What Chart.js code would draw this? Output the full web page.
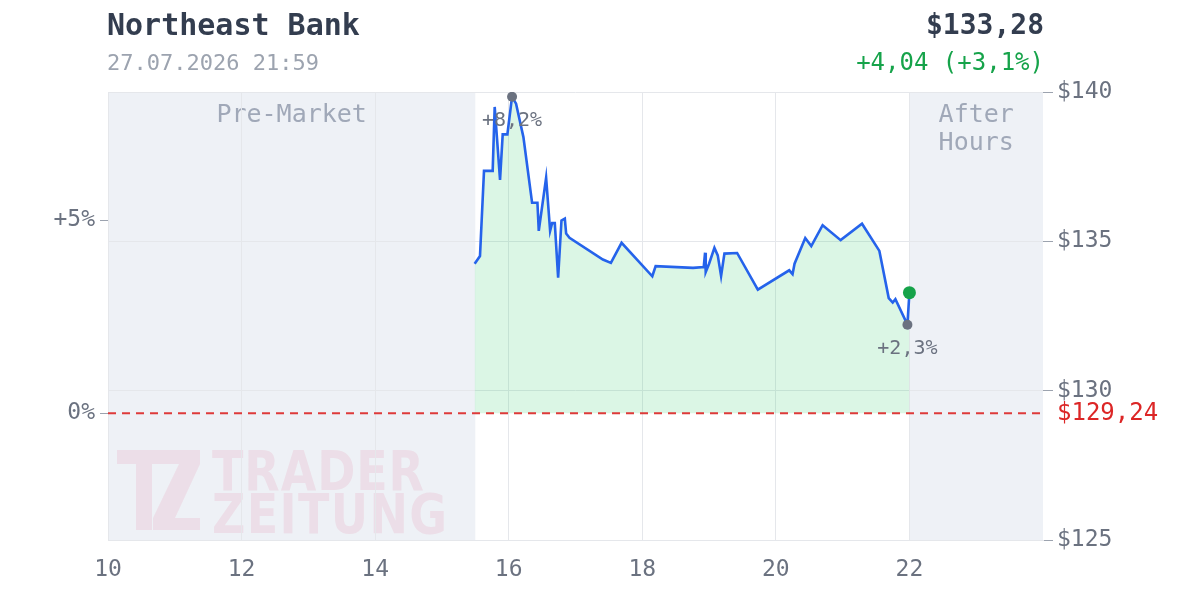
<!DOCTYPE html>
<html>
<head>
<meta charset="utf-8">
<script src="https://cdn.jsdelivr.net/npm/chart.js@4.4.1/dist/chart.umd.min.js"></script>
<style>
  body { margin: 0; background: #fff; }
  canvas { display: block; }
</style>
</head>
<body>
<canvas id="chart" width="1200" height="600"></canvas>
<script>
// Kursdaten (Stunde des Tages, Preis in $)
const zeiten = [15.49, 15.57, 15.63, 15.76, 15.79, 15.87, 15.91, 15.98, 16.05, 16.11,
  16.22, 16.35, 16.43, 16.45, 16.56, 16.62, 16.65, 16.69, 16.74, 16.79,
  16.84, 16.86, 16.91, 17.41, 17.53, 17.69, 18.15, 18.20, 18.76, 18.92,
  18.94, 18.95, 19.00, 19.08, 19.13, 19.18, 19.23, 19.42, 19.73, 20.20,
  20.25, 20.28, 20.44, 20.53, 20.70, 20.97, 21.29, 21.55, 21.69, 21.75,
  21.79, 21.97, 22.00];
const preise = [134.25, 134.51, 137.36, 137.36, 139.50, 137.06, 138.58, 138.58, 139.84, 139.61,
  138.49, 136.29, 136.29, 135.35, 137.13, 135.35, 135.61, 135.61, 133.78, 135.70,
  135.76, 135.26, 135.12, 134.39, 134.28, 134.95, 133.83, 134.17, 134.11, 134.14,
  134.62, 133.97, 134.25, 134.78, 134.53, 133.84, 134.59, 134.61, 133.38, 134.03,
  133.90, 134.25, 135.11, 134.84, 135.54, 135.04, 135.59, 134.68, 133.10, 132.95,
  133.06, 132.21, 133.28];

const vortag = 129.24;
const hochZeit = 16.05, hochPreis = 139.84;
const schlussZeit = 21.97, schlussPreis = 132.21;
const letzteZeit = 22.00, letzterPreis = 133.28;

const xTicks = [10, 12, 14, 16, 18, 20, 22];
const preisTicks = [125, 130, 135, 140];
const prozentTicks = [0, 5];

const MONO = '"DejaVu Sans Mono", monospace';
const fmt = (v, d) => v.toFixed(d).replace('.', ',');

const punkte = zeiten.map((t, i) => ({ x: t, y: preise[i] }));
const pct = p => (p / vortag - 1) * 100;

// Hintergrund: Pre-Market / After Hours
const sessionPlugin = {
  id: 'sessions',
  beforeDraw(chart) {
    const { ctx, chartArea: a, scales: { x } } = chart;
    ctx.save();
    ctx.fillStyle = '#eef1f6';
    const p1 = x.getPixelForValue(15.5);
    const p2 = x.getPixelForValue(22);
    ctx.fillRect(a.left, a.top, p1 - a.left, a.bottom - a.top);
    ctx.fillRect(p2, a.top, a.right - p2, a.bottom - a.top);

    ctx.fillStyle = '#a0a8b8';
    ctx.font = '25px ' + MONO;
    ctx.textAlign = 'center';
    ctx.textBaseline = 'middle';
    ctx.fillText('Pre-Market', (a.left + p1) / 2, 115);
    ctx.fillText('After', (p2 + a.right) / 2, 115);
    ctx.fillText('Hours', (p2 + a.right) / 2, 143);

    // Wasserzeichen
    ctx.fillStyle = 'rgba(225, 60, 110, 0.10)';
    ctx.fillRect(117, 450, 83, 14);
    ctx.fillRect(136, 464, 16, 66);
    ctx.fillRect(153, 518, 47, 12);
    ctx.beginPath();
    ctx.moveTo(179, 464); ctx.lineTo(200, 464);
    ctx.lineTo(175, 518); ctx.lineTo(153, 518);
    ctx.closePath(); ctx.fill();
    ctx.font = 'bold 46px "DejaVu Sans", sans-serif';
    ctx.textAlign = 'left';
    ctx.textBaseline = 'alphabetic';
    const spaced = (txt, x0, x1, y) => {
      const w = [...txt].map(c => ctx.measureText(c).width);
      const total = w.reduce((s, v) => s + v, 0);
      const gap = (x1 - x0 - total) / (txt.length - 1);
      let cx = x0;
      [...txt].forEach((c, i) => {
        ctx.save();
        ctx.translate(cx, y);
        ctx.scale(1, 1.18);
        ctx.fillText(c, 0, 0);
        ctx.restore();
        cx += w[i] + gap;
      });
    };
    spaced('TRADER', 212, 424, 490);
    spaced('ZEITUNG', 212, 447, 533);
    ctx.restore();
  },
  afterDatasetsDraw(chart) {
    const { ctx, chartArea: a, scales: { x, y } } = chart;
    ctx.save();
    // Vortageslinie
    const yv = y.getPixelForValue(vortag);
    ctx.strokeStyle = 'rgba(220, 38, 38, 0.9)';
    ctx.lineWidth = 2;
    ctx.setLineDash([8, 6]);
    ctx.beginPath();
    ctx.moveTo(a.left, yv); ctx.lineTo(a.right, yv);
    ctx.stroke();
    ctx.setLineDash([]);
    ctx.fillStyle = '#dc2626';
    ctx.font = '24px ' + MONO;
    ctx.textAlign = 'left';
    ctx.textBaseline = 'middle';
    ctx.fillText('$' + fmt(vortag, 2), 1057, yv);

    // Punktbeschriftungen
    ctx.fillStyle = '#6b7280';
    ctx.font = '20px ' + MONO;
    ctx.textAlign = 'center';
    ctx.fillText('+' + fmt(pct(hochPreis), 1) + '%', x.getPixelForValue(hochZeit), y.getPixelForValue(hochPreis) + 24);
    ctx.fillText('+' + fmt(pct(schlussPreis), 1) + '%', x.getPixelForValue(schlussZeit), y.getPixelForValue(schlussPreis) + 24);

    // Kopfzeile
    ctx.textBaseline = 'middle';
    ctx.textAlign = 'left';
    ctx.fillStyle = '#333d4f';
    ctx.font = 'bold 30px ' + MONO;
    ctx.fillText('Northeast Bank', 107, 27);
    ctx.fillStyle = '#9ca3af';
    ctx.font = '22px ' + MONO;
    ctx.fillText('27.07.2026 21:59', 107, 64);
    ctx.textAlign = 'right';
    ctx.fillStyle = '#333d4f';
    ctx.font = 'bold 28px ' + MONO;
    ctx.fillText('$' + fmt(letzterPreis, 2), 1044, 27);
    ctx.fillStyle = '#16a34a';
    ctx.font = '24px ' + MONO;
    const diff = letzterPreis - vortag;
    ctx.fillText('+' + fmt(diff, 2) + ' (+' + fmt(pct(letzterPreis), 1) + '%)', 1044, 64);
    ctx.restore();
  }
};

const tickFont = { family: MONO, size: 23 };

new Chart(document.getElementById('chart'), {
  type: 'line',
  data: {
    datasets: [
      {
        data: [{ x: hochZeit, y: hochPreis }, { x: schlussZeit, y: schlussPreis }],
        showLine: false,
        pointRadius: 5,
        pointBackgroundColor: '#6b7280',
        pointBorderWidth: 0,
        order: 0
      },
      {
        data: [{ x: letzteZeit, y: letzterPreis }],
        showLine: false,
        pointRadius: 6.5,
        pointBackgroundColor: '#16a34a',
        pointBorderWidth: 0,
        order: 0
      },
      {
        data: punkte,
        borderColor: '#2563eb',
        borderWidth: 2.6,
        pointRadius: 0,
        tension: 0,
        fill: { value: vortag },
        backgroundColor: 'rgba(34, 197, 94, 0.16)',
        order: 1
      }
    ]
  },
  options: {
    responsive: false,
    animation: false,
    layout: { padding: { top: 92 } },
    plugins: { legend: { display: false }, tooltip: { enabled: false } },
    scales: {
      x: {
        type: 'linear',
        min: 10, max: 24,
        afterBuildTicks: s => { s.ticks = xTicks.map(v => ({ value: v })); },
        afterFit: s => { s.height = 60; },
        grid: { color: '#e5e7eb', drawTicks: false },
        border: { color: '#e5e7eb' },
        ticks: { color: '#6b7280', font: tickFont, padding: 16 }
      },
      y: {
        position: 'right',
        min: 125, max: 140,
        afterBuildTicks: s => { s.ticks = preisTicks.map(v => ({ value: v })); },
        afterFit: s => { s.width = 157; },
        grid: { color: '#e5e7eb', tickLength: 10, tickColor: '#9ca3af' },
        border: { display: false },
        ticks: { color: '#6b7280', font: tickFont, padding: 4, callback: v => '$' + v }
      },
      yp: {
        position: 'left',
        min: pct(125), max: pct(140),
        afterBuildTicks: s => { s.ticks = prozentTicks.map(v => ({ value: v })); },
        afterFit: s => { s.width = 108; },
        grid: { drawOnChartArea: false, tickLength: 8, tickColor: '#9ca3af' },
        border: { color: '#e5e7eb' },
        ticks: { color: '#6b7280', font: tickFont, padding: 5, callback: v => (v > 0 ? '+' : '') + v + '%' }
      }
    }
  },
  plugins: [sessionPlugin]
});
</script>
</body>
</html>
